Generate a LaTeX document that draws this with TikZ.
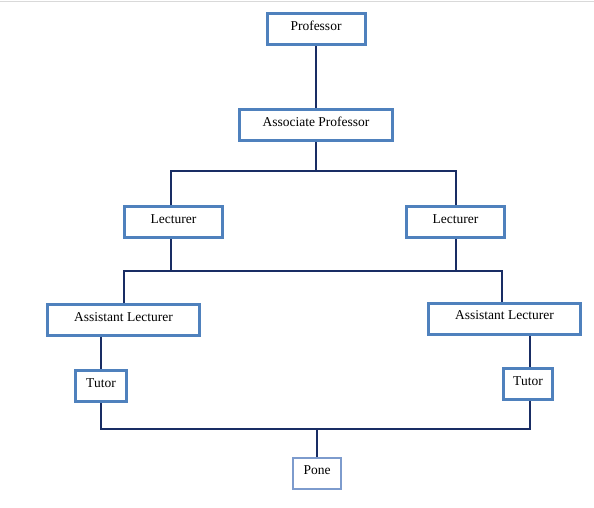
\documentclass[tikz,border=0pt]{standalone}
\usepackage{fontspec}
\setmainfont{Liberation Serif}
\definecolor{myboxblue}{RGB}{79,129,189}
\definecolor{mypaleblue}{RGB}{125,155,205}
\definecolor{mynavy}{RGB}{25,45,100}
\usetikzlibrary{positioning,calc}

\begin{document}
\begin{tikzpicture}[
  x=1pt,
  y=-1pt,
  mybox/.style={
    draw=myboxblue,
    line width=3pt,
    fill=white,
    inner sep=0pt,
    minimum height=31pt,
    minimum width=#1,
    text height=9pt,
    text depth=7pt,
    font=\fontsize{13.5}{15}\selectfont
    },
  mylink/.style={
    draw=mynavy,
    line width=2pt
    }
]
\useasboundingbox (0,0) rectangle (594,507);
\draw[black!15, line width=1pt] (0,1) -- (594,1);

% boxes
\node[mybox=98pt]  (prof)  at (316,29)    {Professor};
\node[mybox=153pt] (assoc) at (316,125)   {Associate Professor};
\node[mybox=98pt]  (lecL)  at (173.5,222) {Lecturer};
\node[mybox=98pt]  (lecR)  at (455.5,222) {Lecturer};
\node[mybox=152pt] (alL)   at (123.5,320) {Assistant Lecturer};
\node[mybox=152pt] (alR)   at (504.5,318.5) {Assistant Lecturer};
\node[mybox=51pt]  (tutL)  at (101,386)   {Tutor};
\node[mybox=49pt]  (tutR)  at (528,384)   {Tutor};
\node[mybox=48pt, draw=mypaleblue, line width=1.5pt] (pone) at (317,473.5) {Pone};

% junctions
\coordinate (jA) at (316,171);
\coordinate (jB) at (316,271);
\coordinate (jC) at (317,429);
\coordinate (dropL) at ($(lecL.south)+(-2.5,0)$);
\coordinate (dropR) at ($(tutR.north)+(2,0)$);

% connectors
\draw[mylink] (prof) -- (assoc);
\draw[mylink] (assoc) -- (jA);
\draw[mylink] (lecL.north -| dropL) |- (jA) -| (lecR.north);
\draw[mylink] (dropL) -- (dropL |- jB);
\draw[mylink] (lecR.south) -- (lecR.south |- jB);
\draw[mylink] (alL.north) |- (jB) -| ($(alR.north)+(-2.5,0)$);
\draw[mylink] (alL.south -| tutL) -- (tutL.north);
\draw[mylink] (alR.south -| dropR) -- (dropR);
\draw[mylink] (tutL.south) |- (jC) -| (tutR.south -| dropR);
\draw[mylink] (jC) -- (pone);
\end{tikzpicture}
\end{document}
